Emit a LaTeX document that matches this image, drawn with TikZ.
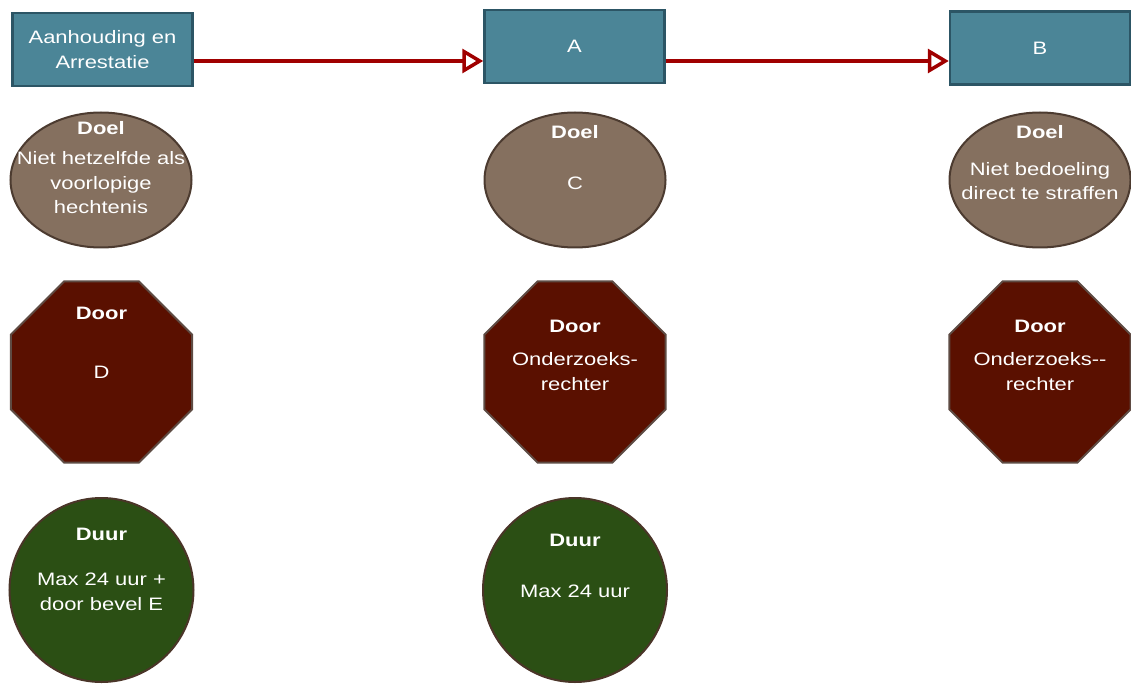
\documentclass[tikz,border=0pt]{standalone}
\usepackage{fontspec}
\newfontfamily\lbl[FakeStretch=1.22]{Liberation Sans}
\usetikzlibrary{shapes.geometric,arrows.meta}
\definecolor{boxfill}{HTML}{4B8597}
\definecolor{boxline}{HTML}{2C5565}
\definecolor{aimfill}{HTML}{85705F}
\definecolor{aimline}{HTML}{4C3B30}
\definecolor{agentfill}{HTML}{5A1000}
\definecolor{agentline}{HTML}{5E4B43}
\definecolor{termfill}{HTML}{2B4F14}
\definecolor{termline}{HTML}{4A3528}
\definecolor{flow}{HTML}{A00000}
\begin{document}
\begin{tikzpicture}[x=1pt,y=-1pt,
  stage/.style={draw=boxline, fill=boxfill, line width=2.5pt, minimum width=180pt, minimum height=73pt, inner sep=0},
  aim/.style={ellipse, draw=aimline, fill=aimfill, line width=2pt, minimum width=181pt, minimum height=135pt, inner sep=0},
  agent/.style={regular polygon, regular polygon sides=8, draw=agentline, fill=agentfill, line width=2pt, minimum size=196pt, inner sep=0},
  term/.style={circle, draw=termline, fill=termfill, line width=2pt, minimum size=184pt, inner sep=0},
  txt/.style={text=white, align=center, inner sep=0, font=\lbl\fontsize{18}{24.5}\selectfont},
  head/.style={txt, font=\lbl\bfseries\fontsize{18}{24.5}\selectfont},
  link/.style={draw=flow, line width=3.5pt, -{Triangle[open, length=21pt, width=24pt, line width=3.5pt]}}
]
\useasboundingbox (0,0) rectangle (1131,684);

% top row: the three stages
\node[stage] (s1) at (102.5,49.5) {};
\node[txt] (s1t) at (s1) {Aanhouding en\\Arrestatie};
\node[stage] (sA) at (574.5,46.5) {};
\node[txt] (sAt) at (sA) {A};
\node[stage] (sB) at (1040,48) {};
\node[txt] (sBt) at (sB) {B};

\draw[link] (s1.east |- 0,61) -- (sA.west |- 0,61);
\draw[link] (sA.east |- 0,61) -- (sB.west |- 0,61);

% purpose
\node[aim] (g1) at (101,180) {};
\node[head] (g1h) at (101,128) {Doel};
\node[txt] (g1b) at (101,183) {Niet hetzelfde als\\voorlopige\\hechtenis};
\node[aim] (gA) at (575,180) {};
\node[head] (gAh) at (575,132) {Doel};
\node[txt] (gAb) at (575,183) {C};
\node[aim] (gB) at (1040,180) {};
\node[head] (gBh) at (1040,132) {Doel};
\node[txt] (gBb) at (1040,181) {Niet bedoeling\\direct te straffen};

% ordered by
\node[agent] (d1) at (101.5,372) {};
\node[head] (d1h) at (101.5,313) {Door};
\node[txt] (d1b) at (101.5,372) {D};
\node[agent] (dA) at (575,372) {};
\node[head] (dAh) at (575,326) {Door};
\node[txt] (dAb) at (575,371.5) {Onderzoeks-\\rechter};
\node[agent] (dB) at (1040,372) {};
\node[head] (dBh) at (1040,326) {Door};
\node[txt] (dBb) at (1040,371.5) {Onderzoeks--\\rechter};

% duration
\node[term] (t1) at (101.5,590) {};
\node[head] (t1h) at (101.5,534) {Duur};
\node[txt] (t1b) at (101.5,592) {Max 24 uur +\\door bevel E};
\node[term] (tA) at (575,590) {};
\node[head] (tAh) at (575,540) {Duur};
\node[txt] (tAb) at (575,591) {Max 24 uur};
\end{tikzpicture}
\end{document}
